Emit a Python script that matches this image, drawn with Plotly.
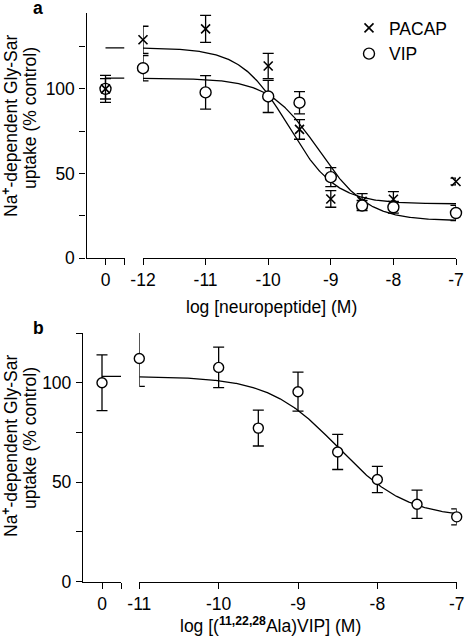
import numpy as np
import plotly.graph_objects as go

FONT = "Liberation Sans, Arial, Helvetica, sans-serif"
FS = 17.5
W, H = 467, 640

# ---------------- Panel a data ----------------
a_log = [-12, -11, -10, -9.5, -9, -8.5, -8, -7]
a_ctrl_x = [0]
pacap_ctrl = [100]
pacap_ctrl_err = [6]
pacap_y = [129, 135.4, 113.5, 76, 34.9, 33.5, 34.7, 45.2]
pacap_err = [8, 8, 7.5, 5.8, 4.9, 4.5, 4.5, 2]
vip_ctrl = [100]
vip_ctrl_err = [8]
vip_y = [112.2, 97.9, 95.5, 91.8, 47.8, 31, 30, 26.6]
vip_err = [7.5, 9.9, 9.5, 6.6, 5.6, 3, 3.5, 4.5]

# fitted sigmoid parameters (top, bottom, logIC50, hill)
pacap_fit = dict(top=124.2, bottom=32, logic50=-9.68, hill=1.15)
vip_fit = dict(top=106.3, bottom=22, logic50=-9.2, hill=1.1)

# ---------------- Panel b data ----------------
b_log = [-11, -10, -9.5, -9, -8.5, -8, -7.5, -7]
ala_ctrl = [100]
ala_ctrl_err = [14]
ala_y = [112.2, 107.7, 77.2, 95.5, 65.2, 51.4, 38.9, 32.6]
ala_err = [14, 10.2, 9, 9.8, 8.8, 6.6, 7.1, 4]
ala_fit = dict(top=103.2, bottom=32, logic50=-8.5, hill=1.0)

# tick labels
a_xticks = [-12, -11, -10, -9, -8, -7]
b_xticks = [-11, -10, -9, -8, -7]
a_yticks = [0, 25, 50, 75, 100, 125]
b_yticks = [0, 25, 50, 75, 100, 125]


def sigmoid(x, p):
    x = np.asarray(x, dtype=float)
    return p["bottom"] + (p["top"] - p["bottom"]) / (1 + 10 ** ((x - p["logic50"]) * p["hill"]))


def px(v):
    return v / W


def py(v):
    return 1 - v / H


fig = go.Figure()

LINE = dict(color="black", width=1.3)
ERR = dict(color="black", thickness=1.3, width=5.5)
XMARK = dict(symbol="x-thin", size=9, color="black", line=dict(color="black", width=1.6))
OMARK = dict(symbol="circle", size=11, color="white", line=dict(color="black", width=1.4))

# ----- Panel a: fitted curves -----
for fit in (pacap_fit, vip_fit):
    seg1_x = [0, 0.3]
    fig.add_trace(go.Scatter(x=seg1_x, y=[fit["top"], fit["top"]], mode="lines", line=LINE,
                             xaxis="x", yaxis="y", showlegend=False, hoverinfo="skip", cliponaxis=False))
    xx = np.linspace(a_log[0], a_log[-1], 400)
    fig.add_trace(go.Scatter(x=xx, y=sigmoid(xx, fit), mode="lines", line=LINE,
                             xaxis="x2", yaxis="y", showlegend=False, hoverinfo="skip", cliponaxis=False))

# ----- Panel a: points -----
fig.add_trace(go.Scatter(x=a_ctrl_x, y=vip_ctrl, mode="markers", marker=OMARK,
                         error_y=dict(type="data", array=vip_ctrl_err, **ERR),
                         xaxis="x", yaxis="y", showlegend=False, cliponaxis=False))
fig.add_trace(go.Scatter(x=a_ctrl_x, y=pacap_ctrl, mode="markers", marker=XMARK,
                         error_y=dict(type="data", array=pacap_ctrl_err, **ERR),
                         xaxis="x", yaxis="y", showlegend=False, cliponaxis=False))
fig.add_trace(go.Scatter(x=a_log, y=pacap_y, mode="markers", marker=XMARK, name="PACAP",
                         error_y=dict(type="data", array=pacap_err, **ERR),
                         xaxis="x2", yaxis="y", showlegend=True, cliponaxis=False))
fig.add_trace(go.Scatter(x=a_log, y=vip_y, mode="markers", marker=OMARK, name="VIP",
                         error_y=dict(type="data", array=vip_err, **ERR),
                         xaxis="x2", yaxis="y", showlegend=True, cliponaxis=False))

# ----- Panel b -----
fig.add_trace(go.Scatter(x=[0, 0.24], y=[ala_fit["top"], ala_fit["top"]], mode="lines", line=LINE,
                         xaxis="x3", yaxis="y2", showlegend=False, hoverinfo="skip", cliponaxis=False))
xx = np.linspace(b_log[0], b_log[-1], 400)
fig.add_trace(go.Scatter(x=xx, y=sigmoid(xx, ala_fit), mode="lines", line=LINE,
                         xaxis="x4", yaxis="y2", showlegend=False, hoverinfo="skip", cliponaxis=False))
fig.add_trace(go.Scatter(x=[0], y=ala_ctrl, mode="markers", marker=dict(OMARK, size=10),
                         error_y=dict(type="data", array=ala_ctrl_err, **ERR),
                         xaxis="x3", yaxis="y2", showlegend=False, cliponaxis=False))
fig.add_trace(go.Scatter(x=b_log, y=ala_y, mode="markers", marker=dict(OMARK, size=10),
                         error_y=dict(type="data", array=ala_err, **ERR),
                         xaxis="x4", yaxis="y2", showlegend=False, cliponaxis=False))

TICKFONT = dict(family=FONT, size=FS, color="black")
AX = dict(showline=True, linecolor="black", linewidth=1.3, ticks="outside", ticklen=6,
          tickwidth=1.3, tickcolor="black", showgrid=False, zeroline=False,
          tickfont=TICKFONT, fixedrange=True, automargin=False)

fig.update_layout(
    width=W, height=H, margin=dict(l=0, r=0, t=0, b=0, autoexpand=False),
    plot_bgcolor="white", paper_bgcolor="white",
    font=dict(family=FONT, size=FS, color="black"),
    xaxis=dict(AX, domain=[px(86.5), px(124.5)], range=[-0.3, 0.3], anchor="y",
               tickmode="array", tickvals=[0, 0.3], ticktext=["0", ""]),
    xaxis2=dict(AX, domain=[px(143), px(456)], range=[-12, -7], anchor="y",
                tickmode="array", tickvals=a_xticks, ticktext=[str(t) for t in a_xticks]),
    yaxis=dict(AX, domain=[py(258), py(12.7)], range=[0, 145], anchor="x",
               tickmode="array", tickvals=a_yticks,
               ticktext=["0", "", "50", "", "100", ""], ticklabelstandoff=1),
    xaxis3=dict(AX, domain=[px(83), px(121)], range=[-0.24, 0.24], anchor="y2",
                tickmode="array", tickvals=[0, 0.24], ticktext=["0", ""]),
    xaxis4=dict(AX, domain=[px(139.3), px(456.7)], range=[-11, -7], anchor="y2",
                tickmode="array", tickvals=b_xticks, ticktext=[str(t) for t in b_xticks]),
    yaxis2=dict(AX, domain=[py(581.7), py(333)], range=[0, 125], anchor="x3",
                tickmode="array", tickvals=b_yticks,
                ticktext=["0", "", "50", "", "100", ""], ticklabelstandoff=1),
    legend=dict(x=px(349), y=py(10), xanchor="left", yanchor="top",
                font=dict(family=FONT, size=FS, color="black"),
                bgcolor="rgba(0,0,0,0)", itemwidth=30, tracegroupgap=0),
)

ann = []
def add_text(text, x, y, size=FS, angle=0, bold=False):
    if bold:
        text = "<b>" + text + "</b>"
    ann.append(dict(text=text, x=px(x), y=py(y), xref="paper", yref="paper",
                    xanchor="center", yanchor="middle", showarrow=False, textangle=angle,
                    font=dict(family=FONT, size=size, color="black")))

add_text("a", 38, 8, bold=True)
add_text("b", 38, 327.5, bold=True)
add_text("log [neuropeptide] (M)", 271.7, 306.7)
add_text("log [(<b><sup>11,22,28</sup></b>Ala)VIP] (M)", 270.5, 625)
for yc in (0, 320):
    add_text("Na<b><sup>+</sup></b>-dependent Gly-Sar", 10, 126 + yc, angle=-90)
    add_text("uptake (% control)", 30, 118 + yc, angle=-90)

fig.update_layout(annotations=ann)
fig.write_html("out.html", config={"displayModeBar": False},
               post_script="document.body.style.margin='0';document.body.style.padding='0';")
